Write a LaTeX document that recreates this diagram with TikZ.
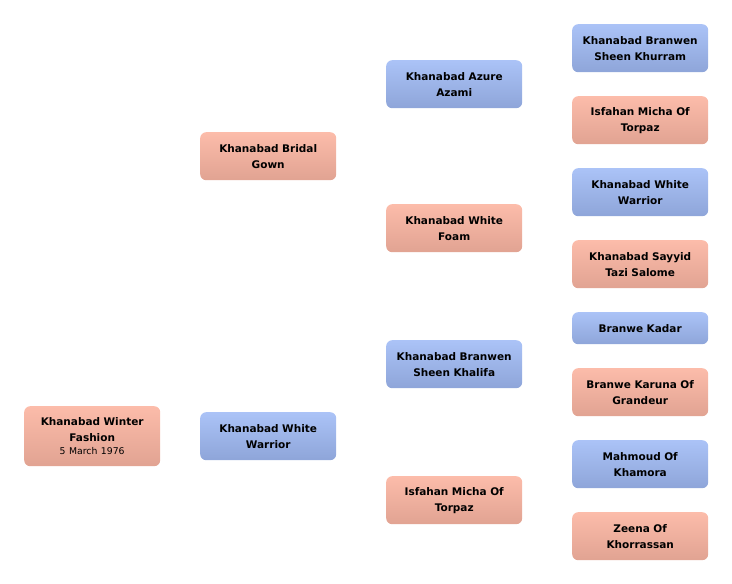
\documentclass[tikz,border=0pt]{standalone}
\usepackage{fontspec}
\setmainfont{DejaVu Sans}
\definecolor{btop}{HTML}{ABC3F7}
\definecolor{bbot}{HTML}{8EA5D9}
\definecolor{ptop}{HTML}{FCBCAA}
\definecolor{pbot}{HTML}{E1A392}
\tikzset{
  person/.style={rounded corners=6pt, minimum width=136pt, text width=132pt, align=center,
    font=\bfseries\fontsize{10.5}{16}\selectfont, inner sep=0pt, anchor=north west},
  male/.style={person, top color=btop, bottom color=bbot},
  female/.style={person, top color=ptop, bottom color=pbot},
}
\begin{document}
\begin{tikzpicture}[x=1pt,y=-1pt]
\useasboundingbox (0,0) rectangle (732,584);
% generation 0
\node[female, minimum height=60pt] (p0) at (24,406) {Khanabad Winter\\Fashion\\[-3pt]{\mdseries\fontsize{9.3}{11}\selectfont 5 March 1976}};
% generation 1
\node[female, minimum height=48pt] (p1) at (200,132) {Khanabad Bridal\\Gown};
\node[male, minimum height=48pt] (p2) at (200,412) {Khanabad White\\Warrior};
% generation 2
\node[male, minimum height=48pt] (p3) at (386,60) {Khanabad Azure\\Azami};
\node[female, minimum height=48pt] (p4) at (386,204) {Khanabad White\\Foam};
\node[male, minimum height=48pt] (p5) at (386,340) {Khanabad Branwen\\Sheen Khalifa};
\node[female, minimum height=48pt] (p6) at (386,476) {Isfahan Micha Of\\Torpaz};
% generation 3
\node[male, minimum height=48pt] (p7) at (572,24) {Khanabad Branwen\\Sheen Khurram};
\node[female, minimum height=48pt] (p8) at (572,96) {Isfahan Micha Of\\Torpaz};
\node[male, minimum height=48pt] (p9) at (572,168) {Khanabad White\\Warrior};
\node[female, minimum height=48pt] (p10) at (572,240) {Khanabad Sayyid\\Tazi Salome};
\node[male, minimum height=32pt] (p11) at (572,312) {Branwe Kadar};
\node[female, minimum height=48pt] (p12) at (572,368) {Branwe Karuna Of\\Grandeur};
\node[male, minimum height=48pt] (p13) at (572,440) {Mahmoud Of\\Khamora};
\node[female, minimum height=48pt] (p14) at (572,512) {Zeena Of\\Khorrassan};
\end{tikzpicture}
\end{document}
